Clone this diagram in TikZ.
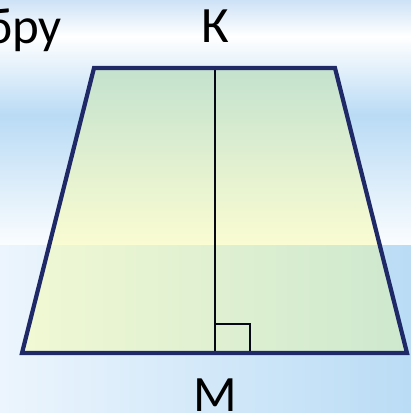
\documentclass[tikz,border=0pt]{standalone}
\usepackage{fontspec}
\setmainfont{Carlito}
\usetikzlibrary{positioning}
\definecolor{navy}{RGB}{31,41,104}
\definecolor{skyA}{RGB}{205,226,246}
\definecolor{skyB}{RGB}{186,219,245}
\definecolor{skyL}{RGB}{236,245,253}
\definecolor{skyR}{RGB}{186,220,245}
\definecolor{leafTop}{RGB}{196,226,206}
\definecolor{leafMid}{RGB}{250,252,210}
\definecolor{leafL}{RGB}{243,249,212}
\definecolor{leafR}{RGB}{205,232,206}

\begin{document}
\begin{tikzpicture}[x=0.02cm, y=-0.02cm,
  edge/.style={draw=navy, line width=2.4pt, line join=miter},
  hline/.style={draw=black!80!navy, line width=1.1pt},
  lbl/.style={font=\fontsize{29}{31}\selectfont, inner sep=0pt}
]
\useasboundingbox (0,0) rectangle (411,413);
% background
\shade[top color=skyA, bottom color=white] (0,0) rectangle (411,36);
\shade[top color=white, bottom color=skyB] (0,36) rectangle (411,115);
\shade[top color=skyB, bottom color=white!94!skyB] (0,115) rectangle (411,245);
\shade[left color=skyL, right color=skyR] (0,245) rectangle (411,413);

% trapezoid
\coordinate (A) at (22,353);
\coordinate (B) at (407,353);
\coordinate (C) at (335,68);
\coordinate (D) at (94,68);
\coordinate (top)  at (215,68);
\coordinate (foot) at (215,353);
\begin{scope}
  \clip (A) -- (B) -- (C) -- (D) -- cycle;
  \shade[top color=leafTop, bottom color=leafMid] (0,68) rectangle (411,245);
  \shade[left color=leafL, right color=leafR] (0,245) rectangle (411,353);
\end{scope}

% height with right angle
\draw[hline] (top) -- (foot);
\draw[hline] (foot) ++(0,-29) -| ++(35,29);
\draw[edge] (A) -- (B) -- (C) -- (D) -- cycle;

% labels
\node[lbl, above=0.5cm of top] (K) {К};
\node[lbl, below=0.5cm of foot] (M) {М};
\node[lbl, anchor=base east] (word) at (62,43) {бру};
\end{tikzpicture}
\end{document}
